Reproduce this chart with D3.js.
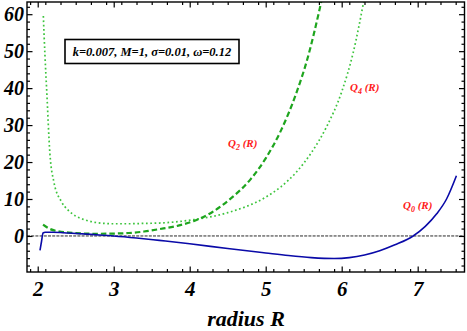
<!DOCTYPE html>
<html>
<head>
<meta charset="utf-8">
<script src="https://cdn.jsdelivr.net/npm/d3@7"></script>
<style>
  body { margin: 0; background: #fff; }
  svg text { font-family: "Liberation Serif", "Times New Roman", serif; font-weight: bold; font-style: italic; }
</style>
</head>
<body>
<div id="chart-area"></div>
<script>
// data
var rQ0 = [2.03, 2.05, 2.07, 2.1, 2.2, 2.4, 2.75, 3.0, 3.3, 3.6, 4.0, 4.5, 5.0, 5.3, 5.6, 5.9, 6.1, 6.3, 6.5, 6.7, 6.94, 7.1, 7.25, 7.38, 7.51];
var q0  = [-3.9, -1.5, 0.8, 1.0, 1.0, 0.8, 0.35, 0.0, -0.55, -1.2, -2.1, -3.4, -4.6, -5.3, -5.85, -6.1, -5.85, -5.15, -4.0, -2.4, 0.0, 2.6, 6.0, 10.0, 16.3];

var rQ2 = [2.07, 2.15, 2.27, 2.5, 2.75, 3.0, 3.2, 3.4, 3.6, 3.85, 4.05, 4.3, 4.55, 4.8, 5.0, 5.2, 5.4, 5.55, 5.7, 5.78];
var q2  = [3.05, 2.0, 1.25, 0.8, 0.6, 0.65, 0.8, 1.2, 1.85, 2.8, 4.0, 6.5, 10.3, 15.3, 21.0, 28.5, 38.5, 48.0, 60.5, 68];

var rQ4 = [2.074, 2.095, 2.118, 2.16, 2.214, 2.31, 2.4, 2.49, 2.6, 2.75, 3.0, 3.2, 3.4, 3.6, 4.05, 4.5, 5.0, 5.2, 5.4, 5.6, 5.8, 6.0, 6.15, 6.3, 6.35];
var q4  = [59.5, 49, 39.5, 22.4, 14.5, 9.35, 7.0, 5.5, 4.5, 3.7, 3.3, 3.3, 3.4, 3.5, 4.4, 6.3, 10.5, 13.3, 17.2, 22.5, 29.5, 39, 49.5, 64.5, 70];

var xTicks = [2, 3, 4, 5, 6, 7];
var yTicks = [0, 10, 20, 30, 40, 50, 60];
var paramText = "k=0.007, M=1, \u03c3=0.01, \u03c9=0.12";

var W = 467, H = 331;
var margins = { top: 2, bottom: 59, left: 27, right: 2.5 };
var width = W - margins.left - margins.right;
var height = H - margins.top - margins.bottom;

var svg = d3.select("#chart-area")
	.append("svg")
		.attr("width", W)
		.attr("height", H);

var g = svg.append("g")
	.attr("transform", `translate(${margins.left}, ${margins.top})`);

var x = d3.scaleLinear().domain([1.859, 7.616]).range([0, width]);
var y = d3.scaleLinear().domain([-9.75, 63.3]).range([height, 0]);

g.append("clipPath").attr("id", "clip")
	.append("rect").attr("width", width).attr("height", height);

// zero line
g.append("line")
	.attr("x1", 0).attr("x2", width)
	.attr("y1", y(0)).attr("y2", y(0))
	.attr("stroke", "#111").attr("stroke-width", 0.9)
	.attr("stroke-dasharray", "3,1.2");

var line = d3.line()
	.x(d => x(d[0]))
	.y(d => y(d[1]))
	.curve(d3.curveMonotoneX);

var plot = g.append("g").attr("clip-path", "url(#clip)");

plot.append("path")
	.datum(rQ4.map((r, i) => [r, q4[i]]))
	.attr("d", line)
	.attr("fill", "none")
	.attr("stroke", "#3dc43d")
	.attr("stroke-width", 1.7)
	.attr("stroke-dasharray", "1.7,2.6");

plot.append("path")
	.datum(rQ2.map((r, i) => [r, q2[i]]))
	.attr("d", line)
	.attr("fill", "none")
	.attr("stroke", "#1ea51e")
	.attr("stroke-width", 2.2)
	.attr("stroke-dasharray", "5.5,3");

plot.append("path")
	.datum(rQ0.map((r, i) => [r, q0[i]]))
	.attr("d", line)
	.attr("fill", "none")
	.attr("stroke", "#0a0aa8")
	.attr("stroke-width", 1.6);

// frame with inward ticks
var xMinor = d3.range(1.9, 7.61, 0.2).filter(v => Math.abs(v - Math.round(v)) > 0.01);
var yMinor = d3.range(-8, 63, 2).filter(v => v % 10 !== 0);

function styleAxis(sel) {
	sel.select(".domain").remove();
	sel.selectAll("line").attr("stroke", "#000").attr("stroke-width", 1.2);
}

g.append("g").attr("transform", `translate(0, ${height})`)
	.call(d3.axisBottom(x).tickValues(xTicks).tickSize(-5.5).tickPadding(9).tickFormat(d3.format("d")))
	.call(styleAxis)
	.selectAll("text").attr("font-size", "21px").attr("fill", "#000");
g.append("g").attr("transform", `translate(0, ${height})`)
	.call(d3.axisBottom(x).tickValues(xMinor).tickSize(-3).tickFormat(""))
	.call(styleAxis);
g.append("g")
	.call(d3.axisTop(x).tickValues(xTicks).tickSize(-5.5).tickFormat(""))
	.call(styleAxis);
g.append("g")
	.call(d3.axisTop(x).tickValues(xMinor).tickSize(-3).tickFormat(""))
	.call(styleAxis);

g.append("g")
	.call(d3.axisLeft(y).tickValues(yTicks).tickSize(-5.5).tickPadding(3).tickFormat(d3.format("d")))
	.call(styleAxis)
	.selectAll("text").attr("font-size", "20px").attr("fill", "#000");
g.append("g")
	.call(d3.axisLeft(y).tickValues(yMinor).tickSize(-3).tickFormat(""))
	.call(styleAxis);
g.append("g").attr("transform", `translate(${width}, 0)`)
	.call(d3.axisRight(y).tickValues(yTicks).tickSize(-5.5).tickFormat(""))
	.call(styleAxis);
g.append("g").attr("transform", `translate(${width}, 0)`)
	.call(d3.axisRight(y).tickValues(yMinor).tickSize(-3).tickFormat(""))
	.call(styleAxis);

g.append("rect")
	.attr("width", width).attr("height", height)
	.attr("fill", "none").attr("stroke", "#000").attr("stroke-width", 1.4);

// axis title
svg.append("text")
	.attr("x", 246).attr("y", 326)
	.attr("text-anchor", "middle")
	.attr("font-size", "22px")
	.text("radius R");

// parameter box
svg.append("rect")
	.attr("x", 65).attr("y", 39.5).attr("width", 174).attr("height", 24)
	.attr("fill", "#fff").attr("stroke", "#000").attr("stroke-width", 1.6);
svg.append("text")
	.attr("x", 152).attr("y", 56)
	.attr("text-anchor", "middle")
	.attr("font-size", "12.5px")
	.text(paramText);

// curve labels
var labels = [
	{ sub: "0", x: 403, y: 209 },
	{ sub: "2", x: 228, y: 147 },
	{ sub: "4", x: 350, y: 91 }
];
labels.forEach(function(l) {
	var t = svg.append("text")
		.attr("x", l.x).attr("y", l.y)
		.attr("font-size", "11px")
		.attr("fill", "#ff1a1a");
	t.append("tspan").text("Q");
	t.append("tspan").attr("font-size", "8px").attr("dy", 2.5).text(l.sub);
	t.append("tspan").attr("dy", -2.5).text(" (R)");
});
</script>
</body>
</html>
